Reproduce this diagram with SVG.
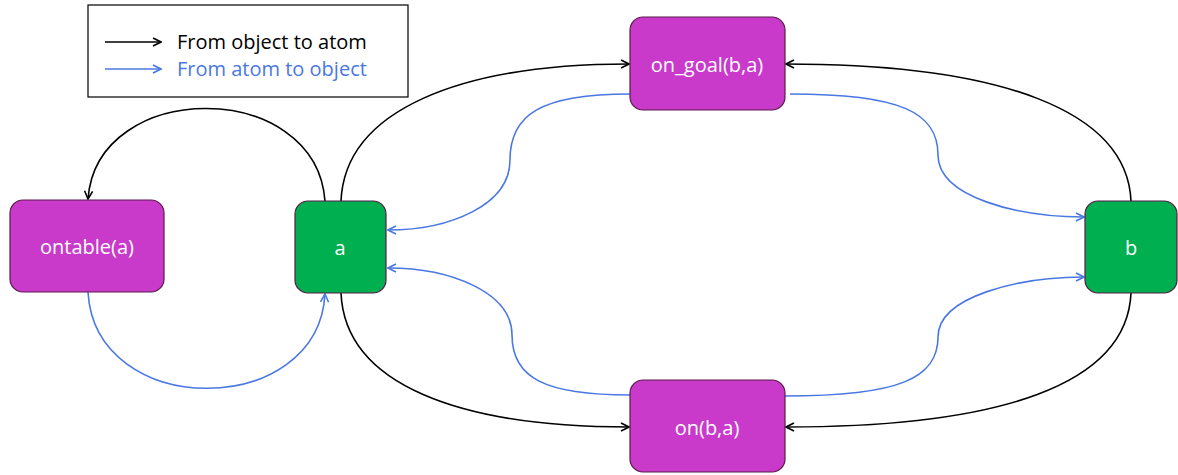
<svg xmlns="http://www.w3.org/2000/svg" width="1178" height="475" viewBox="0 0 1178 475">
<style>
.atom{fill:#c93acb;stroke:#5a1a4a;stroke-width:1.2}
.obj{fill:#00af50;stroke:#5a1a4a;stroke-width:1.2}
.lbl{font-family:"Open Sans","Noto Sans",sans-serif;font-size:20px;fill:#ffffff;text-anchor:middle;dominant-baseline:central}
.leg{font-family:"Open Sans","Noto Sans",sans-serif;font-size:20px}
.k{fill:none;stroke:#000;stroke-width:1.6;marker-end:url(#ak)}
.b{fill:none;stroke:#4a78e2;stroke-width:1.6;marker-end:url(#ab)}
</style>
<defs>
<marker id="ak" viewBox="0 0 10 10" refX="9" refY="5" markerWidth="10" markerHeight="10" markerUnits="userSpaceOnUse" orient="auto"><path d="M1,1 L9,5 L1,9" fill="none" stroke="#000" stroke-width="1.6"/></marker>
<marker id="ab" viewBox="0 0 10 10" refX="9" refY="5" markerWidth="10" markerHeight="10" markerUnits="userSpaceOnUse" orient="auto"><path d="M1,1 L9,5 L1,9" fill="none" stroke="#4a78e2" stroke-width="1.6"/></marker>
</defs>
<rect width="1178" height="475" fill="#fff"/>
<g id="legend">
<rect x="88" y="5" width="320" height="92" fill="#fff" stroke="#000" stroke-width="1.2"/>
<line x1="105" y1="42" x2="161" y2="42" class="k"/>
<line x1="105" y1="69" x2="161" y2="69" class="b"/>
<text x="177" y="49" class="leg" fill="#000">From object to atom</text>
<text x="177" y="76" class="leg" fill="#4a78e2">From atom to object</text>
</g>
<g id="connectors">
<path class="k" d="M325,201 C316,78 97,78 88,199"/>
<path class="b" d="M88,292 C95,420 318,420 325,294"/>
<path class="k" d="M341,201 C345,110 460,64 629,64"/>
<path class="k" d="M1131,201 C1127,110 1000,64 786,64"/>
<path class="k" d="M341,293 C345,385 460,427 629,427"/>
<path class="k" d="M1131,293 C1127,385 1000,427 786,427"/>
<path class="b" d="M630,94 C540,94 510,115 510,160 C510,205 450,230 388,230"/>
<path class="b" d="M790,94 C900,94 938,112 938,155 C938,198 1020,217 1084,217"/>
<path class="b" d="M630,395 C545,395 512,378 512,335 C512,292 450,268 388,268"/>
<path class="b" d="M785,396 C900,396 938,378 938,337 C938,296 1020,277 1084,277"/>
</g>
<g id="ontable"><rect class="atom" x="10" y="200" width="154" height="92" rx="13"/><text class="lbl" x="87" y="246">ontable(a)</text></g>
<g id="a"><rect class="obj" x="295" y="201" width="91" height="92" rx="13"/><text class="lbl" x="340" y="247">a</text></g>
<g id="on_goal"><rect class="atom" x="630" y="17" width="155" height="93" rx="13"/><text class="lbl" x="707" y="64">on_goal(b,a)</text></g>
<g id="on"><rect class="atom" x="630" y="380" width="155" height="92" rx="13"/><text class="lbl" x="707" y="427">on(b,a)</text></g>
<g id="b"><rect class="obj" x="1085" y="201" width="92" height="92" rx="13"/><text class="lbl" x="1131" y="247">b</text></g>
</svg>
